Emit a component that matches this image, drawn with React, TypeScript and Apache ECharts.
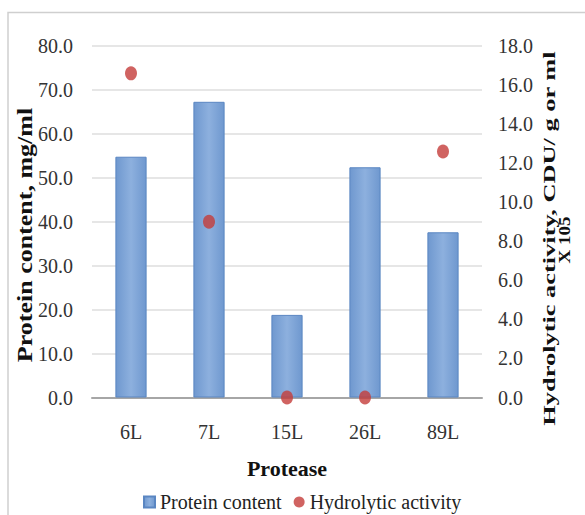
import React, { useEffect, useRef } from "react";
import * as echarts from "echarts";

const categories = ["6L", "7L", "15L", "26L", "89L"];
const proteinContent = [54.8, 67.3, 18.8, 52.4, 37.6];
const hydrolyticActivity = [16.6, 9.0, 0.0, 0.0, 12.6];

const leftTitle = "Protein content, mg/ml";
const rightTitleLine1 = "Hydrolytic activity, CDU/ g or ml";
const rightTitleLine2 = "X 105";
const xTitle = "Protease";

const SERIF = "'Liberation Serif', 'Times New Roman', serif";

export default function App() {
  const ref = useRef<HTMLDivElement>(null);
  useEffect(() => {
    document.body.style.margin = "0";
    const chart = echarts.init(ref.current!, null, { renderer: "svg" });
    const titleStyle = {
      fontFamily: SERIF,
      fontWeight: "bold",
      fill: "#111",
      align: "center",
      verticalAlign: "middle",
    };
    chart.setOption({
      animation: false,
      backgroundColor: "#ffffff",
      textStyle: { fontFamily: SERIF },
      grid: { left: 92, right: 103, top: 46, bottom: 117.5, containLabel: false },
      legend: {
        left: 138,
        top: 487,
        itemGap: 12,
        itemWidth: 11,
        itemHeight: 11,
        textStyle: { fontFamily: SERIF, fontSize: 20, color: "#222" },
        data: [
          { name: "Protein content", icon: "rect" },
          { name: "Hydrolytic activity", icon: "circle" },
        ],
      },
      xAxis: {
        type: "category",
        data: categories,
        name: xTitle,
        nameLocation: "middle",
        nameGap: 60,
        nameTextStyle: { fontFamily: SERIF, fontSize: 22, fontWeight: "bold", color: "#111" },
        axisLine: { lineStyle: { color: "#a6a6a6", width: 2 } },
        axisTick: { show: false },
        axisLabel: { margin: 24, fontFamily: SERIF, fontSize: 20, color: "#333" },
      },
      yAxis: [
        {
          type: "value",
          min: 0,
          max: 80,
          interval: 10,
          axisLine: { show: false },
          axisTick: { show: false },
          splitLine: { lineStyle: { color: "#dedede", width: 1.5 } },
          axisLabel: {
            margin: 19,
            fontFamily: SERIF,
            fontSize: 20,
            color: "#333",
            formatter: (v: number) => v.toFixed(1),
          },
        },
        {
          type: "value",
          min: 0,
          max: 18,
          interval: 2,
          position: "right",
          axisLine: { show: false },
          axisTick: { show: false },
          splitLine: { show: false },
          axisLabel: {
            margin: 16,
            fontFamily: SERIF,
            fontSize: 20,
            color: "#333",
            formatter: (v: number) => v.toFixed(1),
          },
        },
      ],
      series: [
        {
          name: "Protein content",
          type: "bar",
          data: proteinContent,
          barWidth: "40%",
          itemStyle: {
            color: new echarts.graphic.LinearGradient(0, 0, 1, 0, [
              { offset: 0, color: "#6f98cf" },
              { offset: 0.5, color: "#8db0de" },
              { offset: 1, color: "#6f98cf" },
            ]),
            borderColor: "#5a86c2",
            borderWidth: 1,
          },
        },
        {
          name: "Hydrolytic activity",
          type: "scatter",
          yAxisIndex: 1,
          data: hydrolyticActivity,
          symbol: "circle",
          symbolSize: [12, 14],
          itemStyle: { color: "#c43c3a" },
        },
      ],
      graphic: [
        {
          type: "polyline",
          silent: true,
          shape: { points: [[8, 515], [8, 12.5], [585, 12.5]] },
          style: { stroke: "#cfcfcf", lineWidth: 1.5, fill: null },
        },
        {
          type: "text",
          x: 25,
          y: 235,
          rotation: Math.PI / 2,
          scaleX: 1.3,
          style: { ...titleStyle, text: leftTitle, fontSize: 20 },
        },
        {
          type: "text",
          x: 550,
          y: 238.5,
          rotation: Math.PI / 2,
          scaleX: 1.39,
          scaleY: 0.85,
          style: { ...titleStyle, text: rightTitleLine1, fontSize: 19 },
        },
        {
          type: "text",
          x: 564.5,
          y: 240,
          rotation: Math.PI / 2,
          scaleX: 1.0,
          scaleY: 0.85,
          style: { ...titleStyle, text: rightTitleLine2, fontSize: 19 },
        },
      ],
    });
    return () => chart.dispose();
  }, []);
  return <div ref={ref} style={{ width: 585, height: 515 }} />;
}
